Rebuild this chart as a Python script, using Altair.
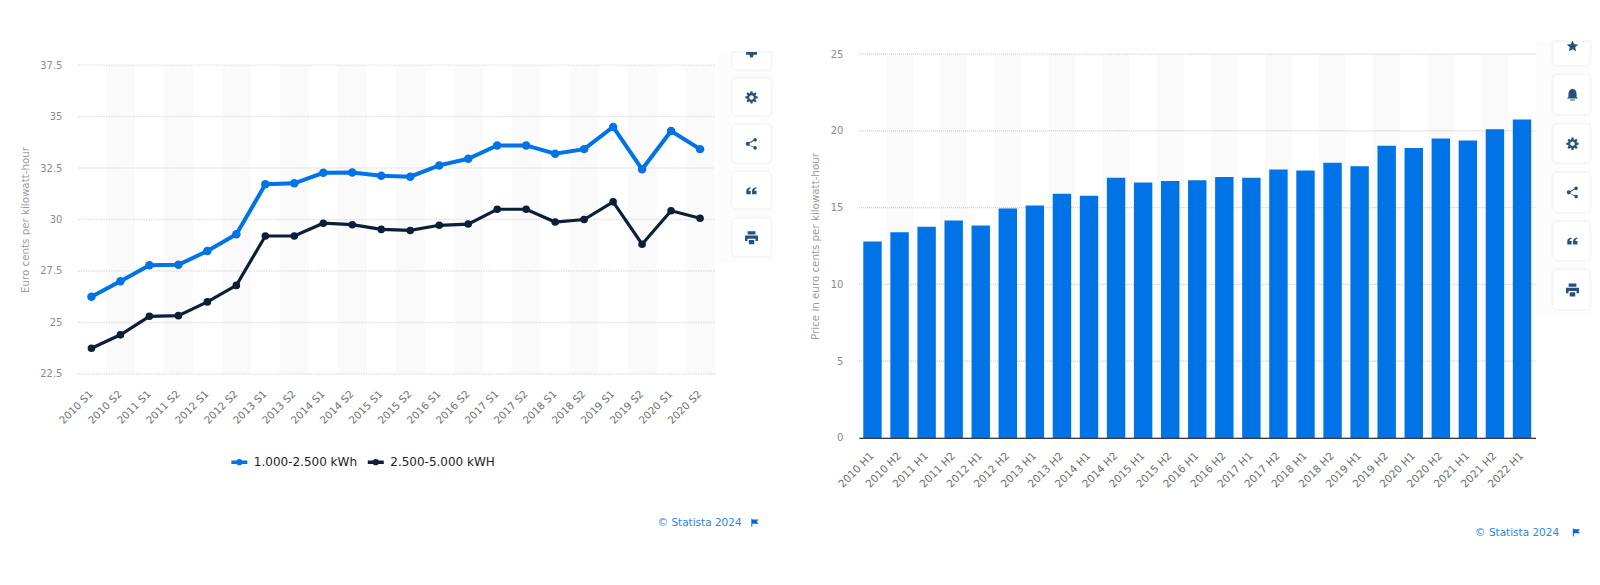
import math
import altair as alt
import pandas as pd

# ---------- data ----------
left_cats = [f"{y} S{h}" for y in range(2010, 2021) for h in (1, 2)]
series_a_name = "1.000-2.500 kWh"
series_b_name = "2.500-5.000 kWH"
series_a = [26.25, 27.0, 27.78, 27.8, 28.47, 29.28, 31.71, 31.76, 32.27, 32.29, 32.13,
            32.08, 32.63, 32.95, 33.6, 33.6, 33.2, 33.42, 34.5, 32.44, 34.3, 33.42]
series_b = [23.75, 24.4, 25.3, 25.33, 26.0, 26.8, 29.2, 29.2, 29.82, 29.75, 29.52,
            29.47, 29.72, 29.78, 30.5, 30.5, 29.88, 30.0, 30.86, 28.8, 30.43, 30.06]
left_ticks = [22.5, 25, 27.5, 30, 32.5, 35, 37.5]
left_title = "Euro cents per kilowatt-hour"

right_cats = [f"{y} H{h}" for y in range(2010, 2023) for h in (1, 2)][:25]
right_vals = [12.8, 13.4, 13.75, 14.16, 13.84, 14.95, 15.14, 15.9, 15.77, 16.94, 16.64, 16.73,
              16.79, 17.0, 16.94, 17.49, 17.42, 17.92, 17.7, 19.03, 18.88, 19.5, 19.38, 20.11, 20.75]
right_ticks = [0, 5, 10, 15, 20, 25]
right_title = "Price in euro cents per kilowatt-hour"
credit = "© Statista 2024"

# ---------- style ----------
FONT = "DejaVu Sans"
BLUE = "#0073e6"
NAVY = "#0b1f38"
ICON = "#27507a"
STRIPE = "#fafafa"
GRID = "#e2e2e2"

LX, RX, TOP = 77, 859.5, 54     # plot origins on the page
L_W, L_TOP, L_BOT = 638, 65, 374
R_W, R_BOT = 677, 438

# ---------- icon shapes ----------
def circle(cx, cy, r, sweep=1):
    return (f"M{cx+r},{cy} A{r},{r} 0 1,{sweep} {cx-r},{cy} "
            f"A{r},{r} 0 1,{sweep} {cx+r},{cy} Z ")

def gear():
    pts = []
    for i in range(8):
        a = i * math.pi / 4
        for d, r in ((-0.27, 0.72), (-0.17, 1.0), (0.17, 1.0), (0.27, 0.72)):
            pts.append(f"{r*math.cos(a+d):.3f},{r*math.sin(a+d):.3f}")
    return "M" + " L".join(pts) + " Z " + circle(0, 0, 0.36, 0)

STAR = "M0,-1 L.29,-.35 1,-.27 .47,.2 .62,.9 0,.53 -.62,.9 -.47,.2 -1,-.27 -.29,-.35 Z"
BELL = "M0,-1 Q.68,-.85 .68,-.1 L.68,.35 L.95,.6 L-.95,.6 L-.68,.35 L-.68,-.1 Q-.68,-.85 0,-1 Z M-.4,.8 L.4,.8 L.4,.95 L-.4,.95 Z"
SHARE = (circle(.6, -.68, .3) + circle(.6, .68, .3) + circle(-.62, 0, .34) +
         "M-.62,-.1 L.6,-.78 L.6,-.58 L-.62,.1 L.6,.58 L.6,.78 L-.62,.1 Z")
QUOTE = ("M-.95,.6 L-.15,.6 L-.15,-.05 L-.55,-.05 Q-.55,-.4 -.15,-.5 L-.15,-.7 Q-.95,-.6 -.95,-.05 Z "
         "M.1,.6 L.9,.6 L.9,-.05 L.5,-.05 Q.5,-.4 .9,-.5 L.9,-.7 Q.1,-.6 .1,-.05 Z")
PRINT = ("M-1,-.35 L1,-.35 L1,.5 L.62,.5 L.62,.15 L-.62,.15 L-.62,.5 L-1,.5 Z "
         "M-.6,-1 L.6,-1 L.6,-.5 L-.6,-.5 Z M-.42,.35 L.42,.35 L.42,1 L-.42,1 Z")
FUNNEL = "M-1,-.5 L1,-.5 L1,0 L.4,0 L.2,.5 L-.2,.5 L-.4,0 L-1,0 Z"
FLAG = "M-.8,-1 L-.55,-1 L-.55,-.85 L1,-.85 L.55,-.35 L1,.2 L-.55,.2 L-.55,1 L-.8,1 Z"
LEGEND_SYMBOL = "M-1,0 L1,0 " + circle(0, 0, .17)

one = pd.DataFrame({"a": [0]})

def rect(ox, x0, x1, y0, y1, fill, clipped=False, radius=5, stroke=None):
    kw = dict(fill=fill)
    if stroke:
        kw.update(stroke=stroke, strokeWidth=2)
    if clipped:
        kw.update(cornerRadiusBottomLeft=radius, cornerRadiusBottomRight=radius)
    else:
        kw.update(cornerRadius=radius)
    return alt.Chart(one).mark_rect(**kw).encode(
        x=alt.value(x0 - ox), x2=alt.value(x1 - ox),
        y=alt.value(y0 - TOP), y2=alt.value(y1 - TOP))

def icon(ox, cx, cy, path, d, color=ICON):
    return alt.Chart(one).mark_point(shape=path, filled=True, color=color, opacity=1,
                                     size=d * d, strokeWidth=0).encode(
        x=alt.value(cx - ox), y=alt.value(cy - TOP))

def label(ox, x0, cy, flag_x):
    t = alt.Chart(one).mark_text(align="left", baseline="middle", font=FONT, fontSize=10.5,
                                 color="#2b86ea").encode(
        x=alt.value(x0 - ox), y=alt.value(cy - TOP), text=alt.value(credit))
    return t + icon(ox, flag_x, cy, FLAG, 8, "#0a63d8")

def buttons(ox, x0, x1, cx, boxes, icons, pane):
    out = [rect(ox, *pane, "#fcfcfd", radius=0)]
    for i, (a, b) in enumerate(boxes):
        out.append(rect(ox, x0, x1, a, b, "#ffffff", clipped=(i == 0), stroke="#f5f6f8"))
    for cy, path, d in icons:
        out.append(icon(ox, cx, cy, path, d))
    return out

# ---------- left chart ----------
l_x = alt.X("cat:N", sort=left_cats, title=None,
            scale=alt.Scale(type="band", paddingInner=0, paddingOuter=0),
            axis=alt.Axis(labelAngle=315, labelAlign="right", labelBaseline="middle",
                          labelFontSize=10.3, labelColor="#6f6f6f", labelFont=FONT,
                          labelPadding=18, domain=False, ticks=False, grid=False, labelOverlap=False))
l_scale = alt.Scale(domain=[22.5, 37.5], range=[L_BOT - TOP, L_TOP - TOP], nice=False, zero=False)
l_axis = alt.Axis(values=left_ticks, labelExpr="format(datum.value, '.3~g')", title=left_title,
                  domain=False, ticks=False, grid=False,
                  labelFont=FONT, labelFontSize=10, labelColor="#8a8a8a", labelPadding=15,
                  titleFont=FONT, titleFontSize=10.3, titleFontWeight="normal", titleColor="#9a9a9a",
                  titlePadding=9)
l_stripes = pd.DataFrame({"cat": left_cats[1::2]}).assign(lo=22.5, hi=37.5)
l_a = pd.DataFrame({"cat": left_cats, "value": series_a, "series": series_a_name})
l_b = pd.DataFrame({"cat": left_cats, "value": series_b, "series": series_b_name})
names = [series_a_name, series_b_name]
color_scale = alt.Scale(domain=names, range=[BLUE, NAVY])
l_y = alt.Y("value:Q", scale=l_scale, axis=l_axis)
legend = alt.Legend(
    title=None, orient="none", direction="horizontal", legendX=152.5, legendY=398, columns=2,
    symbolType=LEGEND_SYMBOL, symbolSize=256, symbolStrokeWidth=3.5, columnPadding=3.5,
    labelFont=FONT, labelFontSize=12, labelColor="#222222", labelLimit=200, labelOffset=4.5)

left_layers = [
    alt.Chart(l_stripes).mark_rect(fill=STRIPE).encode(
        x=l_x, y=alt.Y("lo:Q", scale=l_scale, axis=l_axis), y2="hi:Q"),
    alt.Chart(pd.DataFrame({"t": left_ticks})).mark_rule(
        color=GRID, strokeWidth=1.4, strokeDash=[1.5, 1]).encode(
        y=alt.Y("t:Q", scale=l_scale, axis=l_axis)),
    alt.Chart(l_a).mark_line(strokeWidth=4).encode(
        x=l_x, y=l_y, color=alt.Color("series:N", scale=color_scale, sort=names, legend=legend)),
    alt.Chart(l_b).mark_line(strokeWidth=3.2).encode(
        x=l_x, y=l_y, color=alt.Color("series:N", scale=color_scale, sort=names, legend=legend)),
    alt.Chart(l_a).mark_point(filled=True, opacity=1, size=72).encode(
        x=l_x, y=l_y, color=alt.Color("series:N", scale=color_scale, legend=None)),
    alt.Chart(l_b).mark_point(filled=True, opacity=1, size=58).encode(
        x=l_x, y=l_y, color=alt.Color("series:N", scale=color_scale, legend=None)),
    label(LX, 658, 523, 755),
] + buttons(LX, 732, 772, 752,
            [(52, 70), (77.7, 116), (124, 163.3), (171.3, 209.3), (217.7, 256.7)],
            [(54.5, FUNNEL, 11), (97.3, gear(), 12.5), (143.7, SHARE, 12),
             (191, QUOTE, 11), (237.7, PRINT, 13)],
            (718, 776, 52, 262))

left = alt.layer(*left_layers).properties(width=L_W, height=L_BOT - TOP)

# ---------- right chart ----------
r_x = alt.X("cat:N", sort=right_cats, title=None,
            scale=alt.Scale(type="band", paddingInner=0, paddingOuter=0),
            axis=alt.Axis(labelAngle=315, labelAlign="right", labelBaseline="middle",
                          labelFontSize=10.6, labelColor="#6f6f6f", labelFont=FONT,
                          labelPadding=16, domain=True, domainColor="#3a3a3a", domainWidth=1.4,
                          ticks=False, grid=False, labelOverlap=False))
r_scale = alt.Scale(domain=[0, 25], range=[R_BOT - TOP, 0], nice=False)
r_axis = alt.Axis(values=right_ticks, labelExpr="format(datum.value, '.3~g')", title=right_title,
                  domain=False, ticks=False, grid=False,
                  labelFont=FONT, labelFontSize=10, labelColor="#8a8a8a", labelPadding=16,
                  titleFont=FONT, titleFontSize=10.3, titleFontWeight="normal", titleColor="#9a9a9a",
                  titlePadding=10)
r_stripes = pd.DataFrame({"cat": right_cats[1::2]}).assign(lo=0, hi=25)
r_bars = pd.DataFrame({"cat": right_cats, "value": right_vals})

right_layers = [
    alt.Chart(r_stripes).mark_rect(fill=STRIPE).encode(
        x=r_x, y=alt.Y("lo:Q", scale=r_scale, axis=r_axis), y2="hi:Q"),
    alt.Chart(pd.DataFrame({"t": right_ticks})).mark_rule(
        color="#cfcfcf", strokeWidth=1.2, strokeDash=[1, 1]).encode(
        y=alt.Y("t:Q", scale=r_scale, axis=r_axis)),
    alt.Chart(r_bars).mark_bar(color=BLUE, width=alt.RelativeBandSize(band=0.68)).encode(
        x=r_x, y=alt.Y("value:Q", scale=r_scale, axis=r_axis)),
    label(RX, 1476, 532.7, 1577),
] + buttons(RX, 1553.5, 1591.5, 1573.5,
            [(41, 65.7), (74, 115), (123.3, 163.3), (172, 212.7), (221, 260.7), (269.3, 310)],
            [(46, STAR, 11.5), (94.7, BELL, 12), (143.7, gear(), 12.5), (192.3, SHARE, 12),
             (241.3, QUOTE, 11), (290, PRINT, 13)],
            (1537, 1592, 41, 316))

right = alt.layer(*right_layers).properties(width=R_W, height=R_BOT - TOP)

chart = alt.hconcat(left, right, spacing=RX - LX - L_W, bounds="flush").properties(
    padding={"left": 12, "top": 32, "right": 0, "bottom": 0}, background="#ffffff"
).configure_view(stroke=None)

chart.save("out.html", embed_options={"renderer": "svg", "actions": False})
